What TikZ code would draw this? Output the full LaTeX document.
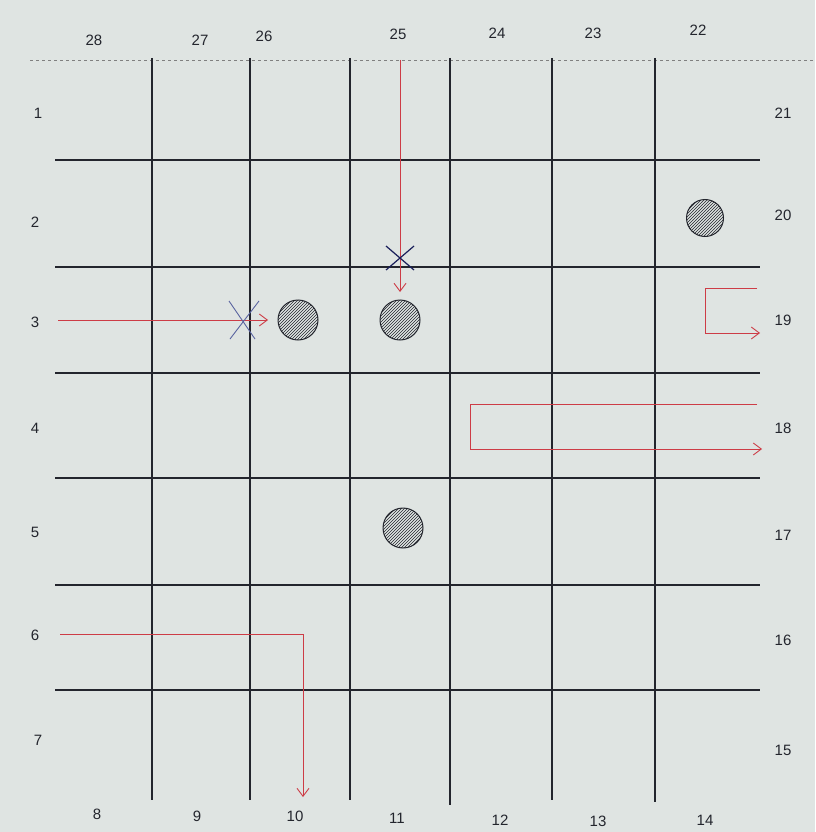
\documentclass[tikz,border=0pt]{standalone}
\usepackage{fontspec}
\setmainfont{Liberation Sans}
\usetikzlibrary{arrows.meta,patterns}
\definecolor{paper}{RGB}{223,228,226}
\definecolor{ink}{RGB}{35,37,45}
\definecolor{redpen}{RGB}{205,60,70}
\definecolor{navypen}{RGB}{25,30,90}
\definecolor{bluepen}{RGB}{90,100,160}
\begin{document}
\begin{tikzpicture}[x=1pt,y=-1pt,
  gridline/.style={ink,line width=1.1pt},
  lbl/.style={inner sep=0pt,font=\fontsize{15}{17}\selectfont,text=ink},
  route/.style={redpen,line width=0.9pt,-{Straight Barb[length=8pt,width=12pt]}},
  piece/.style={circle,draw=ink,line width=1pt,minimum size=40pt,inner sep=0pt,pattern=north east lines,pattern color=ink},
  cross/.style={line width=1.2pt}]
\path[use as bounding box,fill=paper] (0,0) rectangle (815,832);
\draw[gray,dashed,line width=0.6pt] (30,60) -- (815,60);
% grid
\foreach \x/\yb in {152/800,250/800,350/800,450/805,552/800,655/802}
  \draw[gridline] (\x,58) -- (\x,\yb);
\foreach \y in {160,267,373,478,585,690}
  \draw[gridline] (55,\y) -- (760,\y);
% labels top and bottom
\node[lbl] (t28) at (94,40) {28};
\node[lbl] (t27) at (200,40) {27};
\node[lbl] (t26) at (264,36) {26};
\node[lbl] (t25) at (398,34) {25};
\node[lbl] (t24) at (497,33) {24};
\node[lbl] (t23) at (593,33) {23};
\node[lbl] (t22) at (698,30) {22};
\node[lbl] (b8) at (97,814) {8};
\node[lbl] (b9) at (197,816) {9};
\node[lbl] (b10) at (295,816) {10};
\node[lbl] (b11) at (397,818) {11};
\node[lbl] (b12) at (500,820) {12};
\node[lbl] (b13) at (598,821) {13};
\node[lbl] (b14) at (705,820) {14};
% labels left and right
\node[lbl] (l1) at (38,113) {1};
\node[lbl] (l2) at (35,222) {2};
\node[lbl] (l3) at (35,322) {3};
\node[lbl] (l4) at (35,428) {4};
\node[lbl] (l5) at (35,532) {5};
\node[lbl] (l6) at (35,635) {6};
\node[lbl] (l7) at (38,740) {7};
\node[lbl] (r21) at (783,113) {21};
\node[lbl] (r20) at (783,215) {20};
\node[lbl] (r19) at (783,320) {19};
\node[lbl] (r18) at (783,428) {18};
\node[lbl] (r17) at (783,535) {17};
\node[lbl] (r16) at (783,640) {16};
\node[lbl] (r15) at (783,750) {15};
% pieces
\node[piece] (p1) at (298,320) {};
\node[piece] (p2) at (400,320) {};
\node[piece,minimum size=37pt] (p3) at (705,218) {};
\node[piece] (p4) at (403,528) {};
% routes
\coordinate (a0) at (400,60);
\coordinate (a1) at (400,292);
\draw[route] (a0) -- (a1);
\coordinate (b0) at (58,320);
\coordinate (b1) at (268,320);
\draw[route] (b0) -- (b1);
\coordinate (c0) at (757,288);
\coordinate (c1) at (705,288);
\coordinate (c2) at (705,333);
\coordinate (c3) at (760,333);
\draw[route] (c0) -- (c1) -- (c2) -- (c3);
\coordinate (d0) at (757,404);
\coordinate (d1) at (470,404);
\coordinate (d2) at (470,449);
\coordinate (d3) at (762,449);
\draw[route] (d0) -- (d1) -- (d2) -- (d3);
\coordinate (e0) at (60,634);
\coordinate (e1) at (303,634);
\coordinate (e2) at (303,797);
\draw[route] (e0) -- (e1) -- (e2);
% blocked points
\coordinate (x1) at (400,258);
\draw[cross,navypen] ([shift={(-14,-12)}]x1) -- ([shift={(14,12)}]x1)
  ([shift={(14,-12)}]x1) -- ([shift={(-14,12)}]x1);
\coordinate (x2) at (242,320);
\draw[cross,bluepen,line width=0.9pt] ([shift={(-13,-19)}]x2) -- ([shift={(13,19)}]x2)
  ([shift={(17,-19)}]x2) -- ([shift={(-12,19)}]x2);
\end{tikzpicture}
\end{document}
